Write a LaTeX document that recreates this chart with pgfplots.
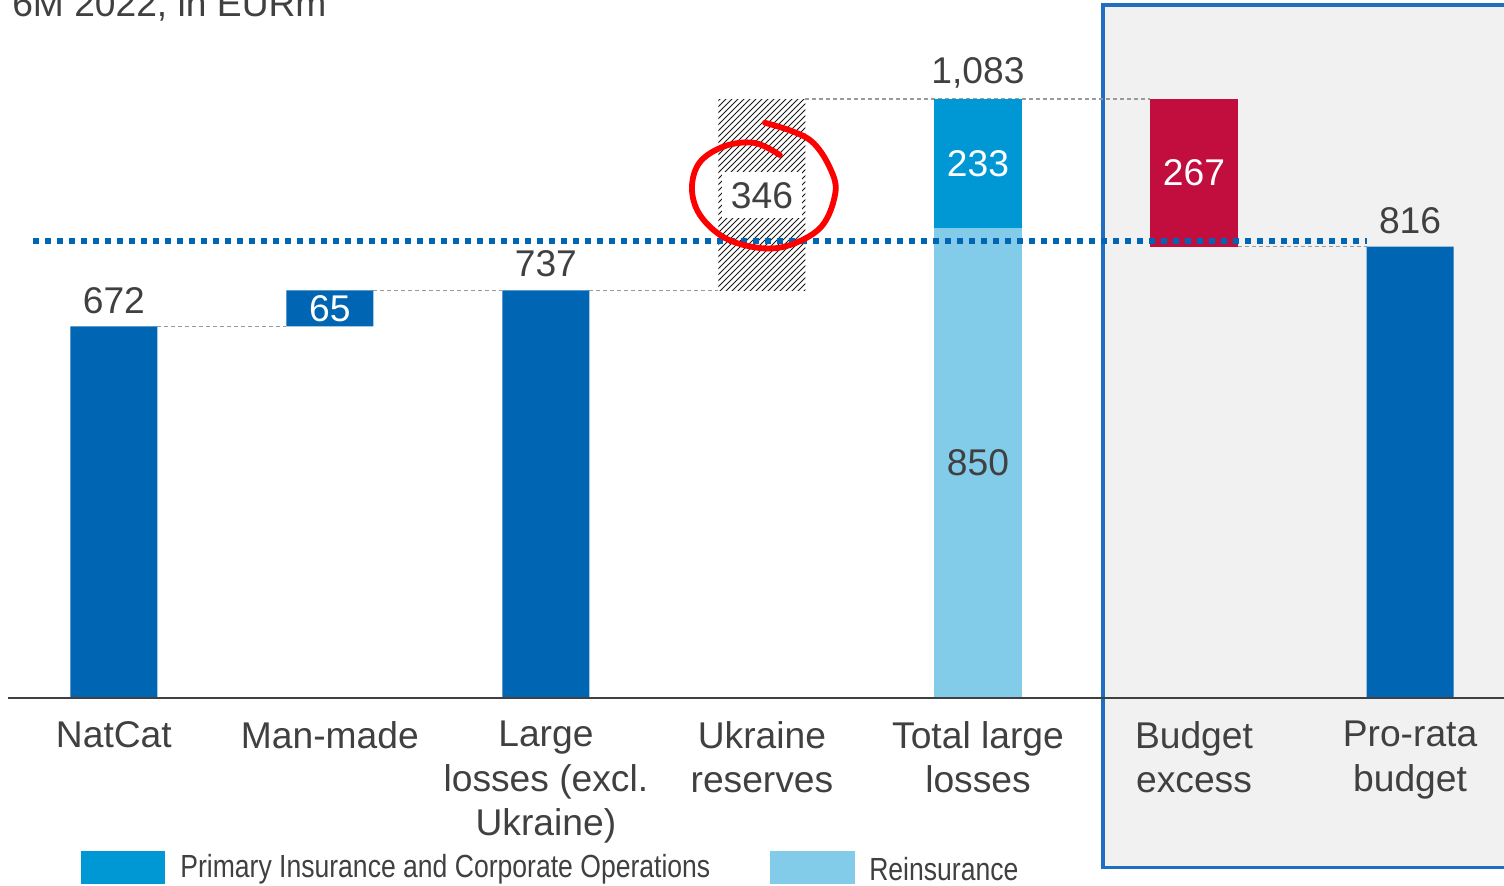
\documentclass[border=0pt]{standalone}
\usepackage{pgfplots}
\pgfplotsset{compat=1.18}
\usetikzlibrary{patterns}
\usepackage{fontspec}
\setmainfont{Liberation Sans}
\newfontfamily\narrowfont[FakeStretch=0.83]{Liberation Sans}
\definecolor{darkblue}{HTML}{0066B3}
\definecolor{primary}{HTML}{0098D4}
\definecolor{reins}{HTML}{82CCEA}
\definecolor{exred}{HTML}{C20E3E}
\definecolor{boxgray}{HTML}{F1F1F1}
\definecolor{boxblue}{HTML}{1F6EBF}
\definecolor{txt}{HTML}{404040}
\definecolor{conn}{HTML}{9A9A9A}
\definecolor{hatch}{HTML}{1A1A1A}
\tikzset{
  lbl/.style={font=\fontsize{18.6}{22.3}\selectfont},
  cn/.style={conn, line width=0.6pt, dash pattern=on 2pt off 1.5pt},
}
\begin{document}
\begin{tikzpicture}
\useasboundingbox (-4pt,-93.5pt) rectangle (748pt,349pt);
\begin{axis}[
  at={(0,0)}, anchor=south west,
  scale only axis, width=748pt, height=346.5pt,
  xmin=-0.49, xmax=6.435, ymin=0, ymax=1253,
  axis on top,
  axis line style={draw=none},
  ytick=\empty,
  xtick={0,1,2,3,4,5,6},
  xticklabels={NatCat, Man-made, {Large\\losses (excl.\\Ukraine)}, {Ukraine\\reserves}, {Total large\\losses}, {Budget\\excess}, {Pro-rata\\budget}},
  xtick style={draw=none},
  xticklabel style={align=center, text=txt, font=\fontsize{18.6}{22.3}\selectfont, anchor=north, yshift=-8pt},
  ybar stacked, bar width=0.403,
  reverse stacked plots=false,
  clip=false,
]
% highlighted budget box
\fill[boxgray] (axis cs:4.579,-307) rectangle (axis cs:6.7,1253);
\draw[boxblue, line width=1.6pt] (axis cs:6.7,1253) -- (axis cs:4.579,1253) -- (axis cs:4.579,-307) -- (axis cs:6.7,-307);
% connectors
\draw[cn] (axis cs:0.2015,672) -- (axis cs:0.7985,672);
\draw[cn] (axis cs:1.2015,737) -- (axis cs:1.7985,737);
\draw[cn] (axis cs:2.2015,737) -- (axis cs:2.7985,737);
\draw[cn] (axis cs:3.2015,1083) -- (axis cs:4.7985,1083);
\draw[cn] (axis cs:5.2015,816) -- (axis cs:5.7985,816);
% invisible base
\addplot[fill=none, draw=none] coordinates {(0,0) (1,672) (2,0) (3,737) (4,0) (5,816) (6,0)};
% reinsurance
\addplot[fill=reins, draw=none] coordinates {(0,0) (1,0) (2,0) (3,0) (4,850) (5,0) (6,0)};
% primary
\addplot[fill=primary, draw=none] coordinates {(0,0) (1,0) (2,0) (3,0) (4,233) (5,0) (6,0)};
% dark blue bars
\addplot[fill=darkblue, draw=none] coordinates {(0,672) (1,65) (2,737) (3,0) (4,0) (5,0) (6,816)};
% Ukraine reserves (hatched)
\addplot[pattern=north east lines, pattern color=hatch, draw=none] coordinates {(0,0) (1,0) (2,0) (3,346) (4,0) (5,0) (6,0)};
% budget excess
\addplot[fill=exred, draw=none] coordinates {(0,0) (1,0) (2,0) (3,0) (4,0) (5,267) (6,0)};
% baseline
\draw[txt, line width=0.9pt] (axis cs:-0.49,0) -- (axis cs:6.435,0);
% dotted reference line
\draw[darkblue, line width=3pt, dash pattern=on 3pt off 3pt] (axis cs:-0.375,826) -- (axis cs:5.80,826);
% value labels
\node[lbl, txt] at (axis cs:0,719) {672};
\node[lbl, white] at (axis cs:1,704.5) {65};
\node[lbl, txt] at (axis cs:2,784.7) {737};
\node[lbl, txt, fill=white, inner xsep=4.5pt, inner ysep=5pt] at (axis cs:3,909) {346};
\node[lbl, txt] at (axis cs:4,1130) {1,083};
\node[lbl, white] at (axis cs:4,966.5) {233};
\node[lbl, txt] at (axis cs:4,425) {850};
\node[lbl, white] at (axis cs:5,949.5) {267};
\node[lbl, txt] at (axis cs:6,862.4) {816};
\node[lbl, txt, anchor=base west, inner sep=0pt] at (axis cs:-0.472,1233) {6M 2022, in EURm};
% legend
\fill[primary] (axis cs:-0.153,-276.6) rectangle (axis cs:0.236,-336.3);
\node[txt, anchor=west, inner sep=0pt, font=\narrowfont\fontsize{16}{19}\selectfont] at (axis cs:0.306,-309) {Primary Insurance and Corporate Operations};
\fill[reins] (axis cs:3.037,-276.6) rectangle (axis cs:3.431,-336.3);
\node[txt, anchor=west, inner sep=0pt, font=\narrowfont\fontsize{16}{19}\selectfont] at (axis cs:3.495,-309) {Reinsurance};
% circle anchor points
\coordinate (c1) at (axis cs:3.014,1040);
\coordinate (c2) at (axis cs:3.222,1009);
\coordinate (c3) at (axis cs:3.329,945.6);
\coordinate (c4) at (axis cs:3.333,900.4);
\coordinate (c5) at (axis cs:3.269,849.7);
\coordinate (c6) at (axis cs:3.130,819);
\coordinate (c7) at (axis cs:2.991,813.6);
\coordinate (c8) at (axis cs:2.829,831.7);
\coordinate (c9) at (axis cs:2.713,873.3);
\coordinate (c10) at (axis cs:2.676,922.1);
\coordinate (c11) at (axis cs:2.713,969);
\coordinate (c12) at (axis cs:2.829,998);
\coordinate (c13) at (axis cs:2.968,1003.5);
\coordinate (c14) at (axis cs:3.083,981.7);
\end{axis}
\draw[red, line width=2.9pt, line cap=round] plot[smooth, tension=0.6] coordinates {(c1) (c2) (c3) (c4) (c5) (c6) (c7) (c8) (c9) (c10) (c11) (c12) (c13) (c14)};
\end{tikzpicture}
\end{document}
